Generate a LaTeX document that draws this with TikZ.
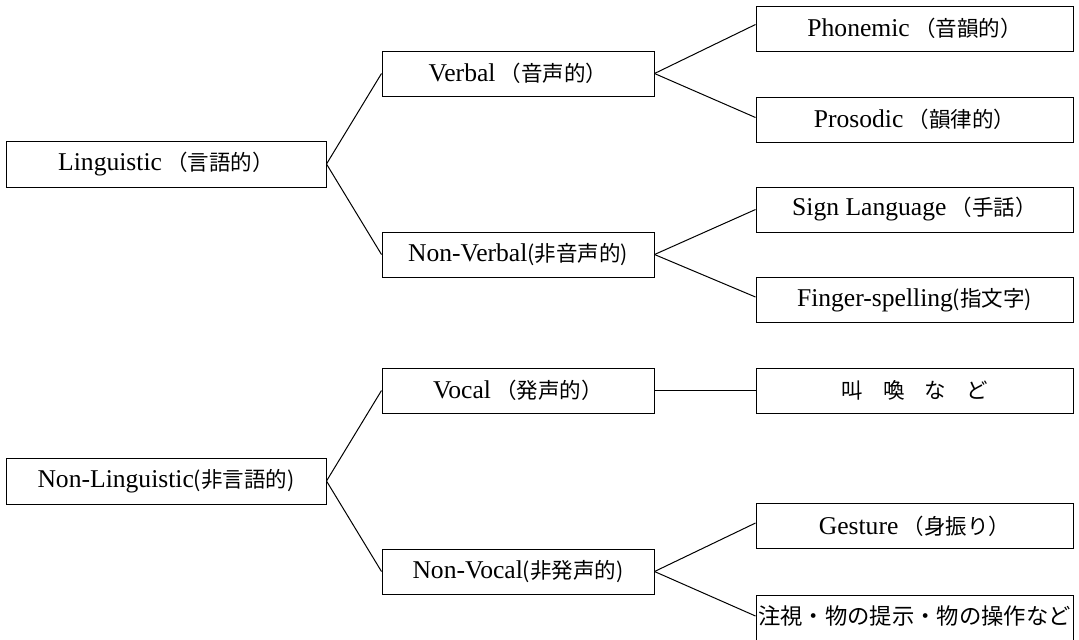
\documentclass[tikz,border=0pt]{standalone}
\usepackage{fontspec}
\setmainfont{Liberation Serif}
\newfontfamily\jp{Noto Sans CJK JP}[Scale=0.84]
\begin{document}
\begin{tikzpicture}[x=0.5pt,y=-0.5pt,
  box/.style={draw,line width=0.5pt,rectangle,inner sep=0pt,align=center,
              font=\fontsize{12.8}{14}\selectfont},
  lbox/.style={box,minimum width=160pt,minimum height=23pt},
  mbox/.style={box,minimum width=136pt,minimum height=22.5pt},
  rbox/.style={box,minimum width=158.5pt,minimum height=22.5pt},
  conn/.style={line width=0.5pt}]
\useasboundingbox (0,0) rectangle (1079,639);
\clip (0,0) rectangle (1079,639);
% level 1
\node[lbox] (ling) at (166,164) {Linguistic\,{\jp（言語的）}};
\node[lbox] (nonling) at (166,481) {Non-Linguistic{\jp(非言語的)}};
% level 2
\node[mbox] (verbal) at (518,73.5) {Verbal\,{\jp（音声的）}};
\node[mbox] (nonverbal) at (518,254.5) {Non-Verbal{\jp(非音声的)}};
\node[mbox] (vocal) at (518,390.5) {Vocal\,{\jp（発声的）}};
\node[mbox] (nonvocal) at (518,571.5) {Non-Vocal{\jp(非発声的)}};
% level 3
\node[rbox] (phon) at (914.5,28.5) {Phonemic\,{\jp（音韻的）}};
\node[rbox] (pros) at (914.5,119.5) {Prosodic\,{\jp（韻律的）}};
\node[rbox] (sign) at (914.5,209.5) {Sign Language\,{\jp（手話）}};
\node[rbox] (finger) at (914.5,300) {Finger-spelling{\jp(指文字)}};
\node[rbox] (shout) at (914.5,390.5) {{\jp 叫\hspace{10pt}喚\hspace{10pt}な\hspace{10pt}ど}};
\node[rbox] (gesture) at (914.5,526) {Gesture\,{\jp（身振り）}};
\node[rbox,minimum height=23pt] (gaze) at (914.5,618)
  {\raisebox{2.5pt}{\fontsize{13.3}{16}\jp 注視・物の提示・物の操作など}};
% connectors
\draw[conn] (ling.east) -- (verbal.west);
\draw[conn] (ling.east) -- (nonverbal.west);
\draw[conn] (nonling.east) -- (vocal.west);
\draw[conn] (nonling.east) -- (nonvocal.west);
\draw[conn] (verbal.east) -- ([yshift=2pt]phon.west);
\draw[conn] (verbal.east) -- ([yshift=1pt]pros.west);
\draw[conn] (nonverbal.east) -- (sign.west);
\draw[conn] (nonverbal.east) -- ([yshift=1.5pt]finger.west);
\draw[conn] (vocal.east) -- (shout.west);
\draw[conn] (nonvocal.east) -- ([yshift=1.5pt]gesture.west);
\draw[conn] (nonvocal.east) -- ([yshift=1pt]gaze.west);
\end{tikzpicture}
\end{document}
